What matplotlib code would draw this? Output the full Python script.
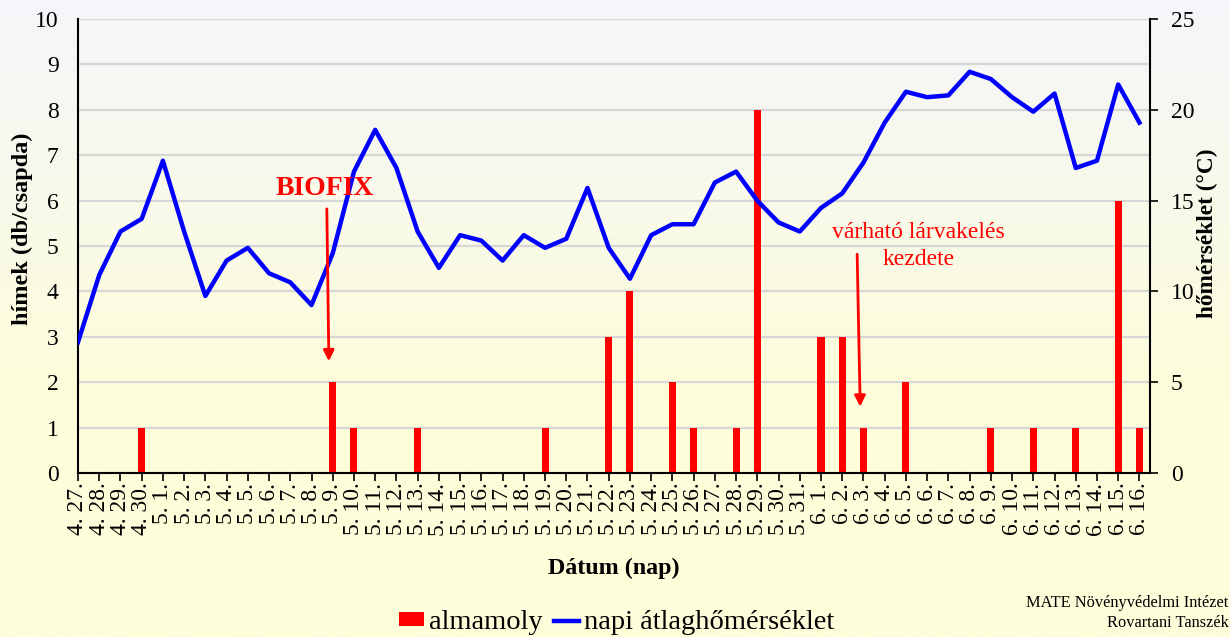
import numpy as np
import matplotlib.pyplot as plt

plt.rcParams['font.family'] = ['Liberation Serif', 'DejaVu Serif']

# dates 4.27 - 6.16
dates = ['4. %d.' % d for d in range(27, 31)] + \
        ['5. %d.' % d for d in range(1, 32)] + \
        ['6. %d.' % d for d in range(1, 17)]

# almamoly catches (db/csapda), only non-zero days listed
catch_days = ['4. 30.', '5. 9.', '5. 10.', '5. 13.', '5. 19.', '5. 22.', '5. 23.',
              '5. 25.', '5. 26.', '5. 28.', '5. 29.', '6. 1.', '6. 2.', '6. 3.',
              '6. 5.', '6. 9.', '6. 11.', '6. 13.', '6. 15.', '6. 16.']
catch_vals = [1, 2, 1, 1, 1, 3, 4, 2, 1, 1, 8, 3, 3, 1, 2, 1, 1, 1, 6, 1]

# napi atlaghomerseklet (C)
temp = [7.2, 10.9, 13.3, 14.0, 17.2, 13.3, 9.75, 11.7, 12.4, 11.0,
        10.5, 9.25, 12.1, 16.6, 18.9, 16.8, 13.3, 11.3, 13.1, 12.8,
        11.7, 13.1, 12.4, 12.9, 15.7, 12.4, 10.7, 13.1, 13.7, 13.7,
        16.0, 16.6, 15.0, 13.8, 13.3, 14.6, 15.4, 17.1, 19.3, 21.0,
        20.7, 20.8, 22.1, 21.7, 20.7, 19.9, 20.9, 16.8, 17.2, 21.4,
        19.3]

catches = [0] * len(dates)
for d, v in zip(catch_days, catch_vals):
    catches[dates.index(d)] = v

x = np.arange(len(dates))

fig = plt.figure(figsize=(12.3, 6.37), dpi=100)

# background gradient
bg = fig.add_axes([0, 0, 1, 1], zorder=0)
top_c = np.array([244, 246, 250]) / 255
bot_c = np.array([253, 253, 218]) / 255
t = np.clip(np.linspace(0, 1, 256) * 1.6, 0, 1)[:, None]
grad = top_c * (1 - t) + bot_c * t
bg.imshow(grad[:, None, :], aspect='auto', extent=[0, 1, 0, 1])
bg.axis('off')

ax = fig.add_axes([0.0634, 0.2575, 0.8716, 0.7125], zorder=1)
ax.patch.set_visible(False)
ax.bar(x, catches, width=0.33, color='#ff0000', zorder=2, label='almamoly')
ax.set_ylim(0, 10)
ax.set_xlim(0, 50.5)
ax.set_yticks(range(0, 11))
ax.yaxis.grid(True, color='#d6d6d6', lw=1.6)
ax.set_axisbelow(True)
ax.set_xticks(x)
ax.set_xticklabels(dates, rotation=90, fontsize=17)
ax.tick_params(axis='x', direction='out', length=6, width=1.2, pad=1)
ax.tick_params(axis='y', length=0, labelsize=17, pad=14)
for s in ['top', 'right']:
    ax.spines[s].set_visible(False)
ax.spines['left'].set_linewidth(1.5)
ax.spines['bottom'].set_linewidth(1.5)
ax.set_xlabel('Dátum (nap)', fontsize=17.3, fontweight='bold', labelpad=16)
fig.text(22 / 1230, 1 - 229 / 637, 'hímek (db/csapda)', rotation=90, fontsize=17.5,
         fontweight='bold', ha='center', va='center')

ax2 = fig.add_axes(ax.get_position(), zorder=2, sharex=ax)
ax2.patch.set_visible(False)
ax2.plot(x, temp, color='#0000ff', lw=3.2, zorder=3, label='napi átlaghőmérséklet')
ax2.set_ylim(0, 25)
ax2.yaxis.tick_right()
ax2.set_yticks(range(0, 26, 5))
ax2.tick_params(axis='y', direction='out', length=6, width=1.2, labelsize=17, pad=9)
ax2.tick_params(axis='x', bottom=False, labelbottom=False)
for s in ['top', 'left', 'bottom']:
    ax2.spines[s].set_visible(False)
ax2.spines['right'].set_linewidth(1.5)
fig.text(1207 / 1230, 1 - 233 / 637, 'hőmérséklet (°C)', rotation=90, fontsize=16.8,
         fontweight='bold', ha='center', va='center')

# annotations
ax2.annotate('', xy=(dates.index('5. 9.') - 0.18, 6.0), xytext=(dates.index('5. 9.') - 0.28, 14.7),
             arrowprops=dict(arrowstyle='-|>', color='#ff0000', lw=2, mutation_scale=16), zorder=5)
ax2.text(dates.index('5. 9.') - 0.35, 15.0, 'BIOFIX', color='#ff0000', fontsize=20,
         fontweight='bold', ha='center', va='bottom', zorder=5)
ax2.annotate('', xy=(dates.index('6. 3.') - 0.15, 3.5), xytext=(dates.index('6. 3.') - 0.3, 12.2),
             arrowprops=dict(arrowstyle='-|>', color='#ff0000', lw=2, mutation_scale=16), zorder=5)
ax2.text(dates.index('6. 5.') + 0.6, 11.2, 'várható lárvakelés\nkezdete', color='#ff0000',
         fontsize=17, ha='center', va='bottom', linespacing=1.35, zorder=5)

# legend
h1, l1 = ax.get_legend_handles_labels()
h2, l2 = ax2.get_legend_handles_labels()
fig.legend(h1 + h2, l1 + l2, loc='center', bbox_to_anchor=(0.5016, 0.022), ncol=2,
           frameon=False, fontsize=20.5, handlelength=0.85, handleheight=0.4,
           handletextpad=0.2, columnspacing=0.4, borderpad=0, borderaxespad=0)

fig.text(0.999, 0.038, 'MATE Növényvédelmi Intézet\nRovartani Tanszék', fontsize=11.8,
         ha='right', va='center', multialignment='right', linespacing=1.3)

fig.savefig('out.png', dpi=100)
